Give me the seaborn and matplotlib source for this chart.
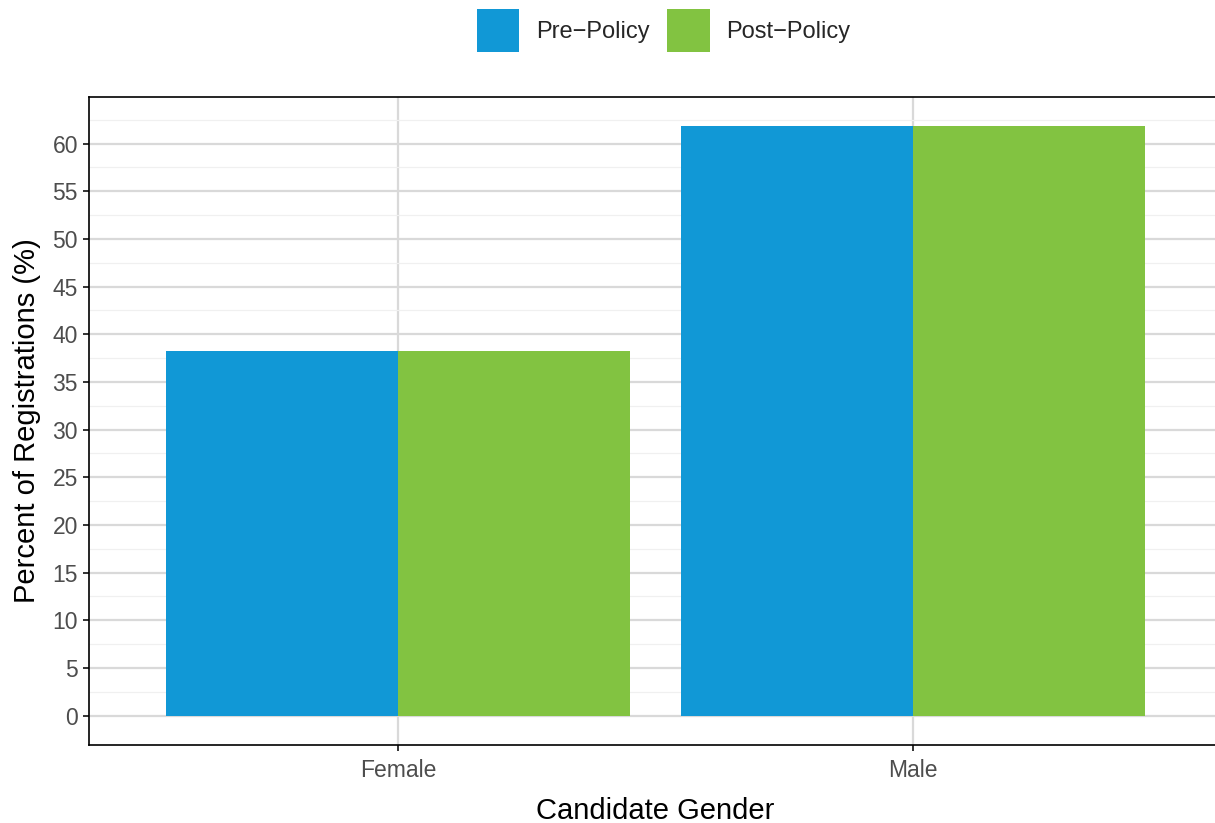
import matplotlib
matplotlib.use("Agg")
import matplotlib.pyplot as plt
import matplotlib.patches as mpatches
import numpy as np
import pandas as pd
import seaborn as sns

# Data
genders = ["Female", "Male"]
periods = ["Pre\u2212Policy", "Post\u2212Policy"]
pre_policy = [38.2, 61.8]
post_policy = [38.2, 61.8]
y_ticks = list(range(0, 61, 5))

PALETTE = ["#1198D6", "#82C341"]

df = pd.DataFrame({
    "gender": genders * 2,
    "period": [periods[0]] * len(genders) + [periods[1]] * len(genders),
    "pct": pre_policy + post_policy,
})

sns.set_theme(style="white")
plt.rcParams["font.family"] = ["Liberation Sans", "DejaVu Sans"]

fig = plt.figure(figsize=(12.15, 8.23), dpi=100)
ax = fig.add_axes([89 / 1215, 1 - 745 / 823, (1222 - 89) / 1215, (745 - 97) / 823])

sns.barplot(data=df, x="gender", y="pct", hue="period", palette=PALETTE,
            width=0.9, gap=0, saturation=1, errorbar=None, ax=ax, zorder=3,
            legend=False, linewidth=0, edgecolor="none")

ymax = max(pre_policy + post_policy)
ax.set_ylim(-0.05 * ymax, ymax * 1.05)
ax.set_xlim(-0.6, 1.6)
ax.set_yticks(y_ticks)
ax.set_yticks(np.arange(2.5, 65, 5), minor=True)

ax.grid(axis="y", which="major", color="#D9D9D9", linewidth=1.6, zorder=0)
ax.grid(axis="y", which="minor", color="#F0F0F0", linewidth=0.9, zorder=0)
ax.grid(axis="x", which="major", color="#D9D9D9", linewidth=1.6, zorder=0)
ax.set_axisbelow(True)

for side in ["top", "left", "bottom", "right"]:
    ax.spines[side].set_visible(True)
    ax.spines[side].set_color("black")
    ax.spines[side].set_linewidth(1.2)

ax.tick_params(axis="both", which="major", length=4, width=1.4, color="#333333",
               labelsize=16.5, labelcolor="#4D4D4D", left=True, bottom=True, pad=4)
ax.tick_params(axis="x", which="major", pad=6)
ax.tick_params(axis="y", which="minor", length=0)

ax.set_xlabel("Candidate Gender", fontsize=21, color="black", labelpad=11)
ax.set_ylabel("Percent of Registrations (%)", fontsize=21, color="black", labelpad=8)

handles = [mpatches.Patch(facecolor=c, edgecolor="none", label=l)
           for c, l in zip(PALETTE, periods)]
fig.legend(handles=handles, loc="upper center", bbox_to_anchor=(0.546, 1.0),
           ncol=2, frameon=False, fontsize=17, handlelength=1.82, handleheight=2.4,
           handletextpad=0.7, columnspacing=0.72, borderaxespad=0.0)

fig.savefig("out.png", dpi=100)
